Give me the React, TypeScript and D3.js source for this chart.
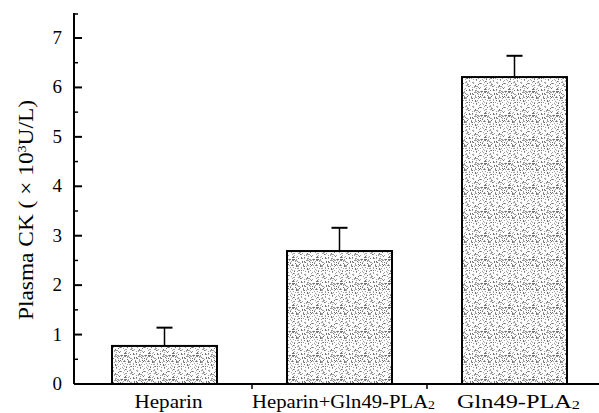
import React from 'react';
import * as d3 from 'd3';

// values (x10^3 U/L)
const groups = ['Heparin', 'Heparin+Gln49-PLA2', 'Gln49-PLA2'];
const labelWidths = [68, 183, 123];
const means = [0.77, 2.69, 6.21];
const errors = [0.37, 0.47, 0.43];
const yTicks = [0, 1, 2, 3, 4, 5, 6, 7];

const W = 599;
const H = 413;

const App = () => {
  const x = d3.scaleBand<string>().domain(groups).range([77, 602]).paddingInner(0.4).paddingOuter(0.2);
  const y = d3.scaleLinear().domain([0, 7]).range([384, 38]);
  const minor = d3.range(0.5, 7.5, 1);
  const axisX = 74;
  const serif = { fontFamily: "'Liberation Serif', 'Times New Roman', serif" };

  // speckle texture for the bars (a fixed hash, just for looks)
  const T = 24;
  const dots: [number, number, number][] = [];
  for (let i = 0; i < T; i++) {
    for (let j = 0; j < T; j++) {
      const h = ((i * 73856093) ^ (j * 19349663)) >>> 0;
      const k = h % 11;
      if (k < 3) dots.push([i, j, k]);
    }
  }

  const label = (g: string) => {
    if (g.endsWith('PLA2')) {
      return (
        <>
          {g.slice(0, -1)}
          <tspan fontSize={12} dy={1}>2</tspan>
        </>
      );
    }
    return g;
  };

  return (
    <svg width={W} height={H} style={{ position: 'absolute', left: 0, top: 0, background: '#fff' }}>
      <defs>
        <pattern id="stip" width={T} height={T} patternUnits="userSpaceOnUse">
          <rect width={T} height={T} fill="#fcfcfc" />
          {dots.map(([a, b, k], i) => (
            <rect key={i} x={a} y={b} width={1} height={1} fill={k === 0 ? '#707070' : '#a0a0a0'} />
          ))}
        </pattern>
      </defs>

      {/* bars */}
      {groups.map((g, i) => {
        const bx = x(g)!;
        const bw = x.bandwidth();
        const cx = bx + bw / 2;
        return (
          <g key={g}>
            <line x1={cx} x2={cx} y1={y(means[i])} y2={y(means[i] + errors[i])} stroke="#000" strokeWidth={1.5} />
            <line x1={cx - 8} x2={cx + 8} y1={y(means[i] + errors[i])} y2={y(means[i] + errors[i])} stroke="#000" strokeWidth={2} />
            <rect x={bx} y={y(means[i])} width={bw} height={y(0) - y(means[i])} fill="url(#stip)" stroke="#000" strokeWidth={2} />
          </g>
        );
      })}

      {/* y axis */}
      <line x1={axisX} x2={axisX} y1={13} y2={y(0)} stroke="#000" strokeWidth={2} />
      <line x1={axisX} x2={axisX + 4} y1={14} y2={14} stroke="#000" strokeWidth={1.5} />
      {yTicks.map((t) => (
        <g key={t}>
          <line x1={axisX} x2={axisX + 8} y1={y(t)} y2={y(t)} stroke="#000" strokeWidth={2} />
          <text x={62} y={y(t) + 6} textAnchor="end" style={serif} fontSize={19} fill="#000">
            {t}
          </text>
        </g>
      ))}
      {minor.map((t) => (
        <line key={t} x1={axisX} x2={axisX + 4} y1={y(t)} y2={y(t)} stroke="#000" strokeWidth={1.5} />
      ))}

      {/* x axis */}
      <line x1={axisX} x2={W} y1={y(0)} y2={y(0)} stroke="#000" strokeWidth={2} />
      {groups.slice(1).map((g) => {
        const tx = x(g)! - (x.step() - x.bandwidth()) / 2;
        return <line key={g} x1={tx} x2={tx} y1={y(0)} y2={y(0) + 5} stroke="#000" strokeWidth={1.5} />;
      })}
      {groups.map((g, i) => (
        <text
          key={g}
          x={x(g)! + x.bandwidth() / 2 + 4 - labelWidths[i] / 2}
          y={408}
          textLength={labelWidths[i]}
          lengthAdjust="spacingAndGlyphs"
          style={serif}
          fontSize={18}
          fill="#000"
        >
          {label(g)}
        </text>
      ))}

      {/* y label */}
      <text
        transform="translate(33, 320) rotate(-90)"
        textLength={220}
        lengthAdjust="spacingAndGlyphs"
        style={serif}
        fontSize={20}
        fill="#000"
      >
        Plasma CK ( × 10<tspan fontSize={12} dy={-7}>3</tspan>
        <tspan dy={7}>U/L)</tspan>
      </text>
    </svg>
  );
};

export default App;
